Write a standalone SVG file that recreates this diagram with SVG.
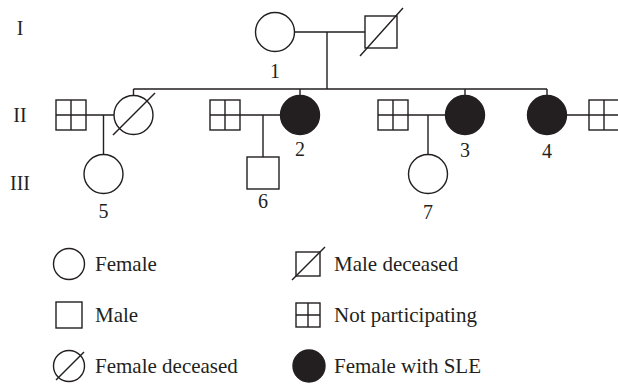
<svg xmlns="http://www.w3.org/2000/svg" width="618" height="385" viewBox="0 0 618 385">
<style>
.s{fill:#fff;stroke:#231f20;stroke-width:1.4}
.f{fill:#231f20;stroke:#231f20;stroke-width:1.4}
.l{fill:none;stroke:#231f20;stroke-width:1.4}
text{font-family:"Liberation Serif","Times New Roman",serif;font-size:20px;fill:#231f20}
.c{text-anchor:middle}
.lg{font-size:21px}
</style>
<rect width="618" height="385" fill="#fff"/>
<g id="gen-labels">
<text x="20" y="35" class="c">I</text>
<text x="20" y="122" class="c">II</text>
<text x="20" y="190" class="c">III</text>
</g>
<g id="connectors" class="l">
<path d="M294.5 32H365M327 32V89M133.5 89H547M133.5 89V95.5M300 89V95.5M465 89V95.5M547 89V95.5"/>
<path d="M86 115H114M240 115H280.5M408 115H445.5M566.5 115H589"/>
<path d="M103.5 115V154.5M263 115V157M428 115V154.5"/>
</g>
<g id="p1"><circle class="s" cx="275" cy="32" r="19.5"/><text x="275" y="78" class="c">1</text></g>
<g id="i2"><rect class="s" x="365" y="16" width="32" height="32"/><line class="l" x1="360" y1="56" x2="403" y2="8"/></g>
<g id="np1"><rect class="s" x="56" y="100" width="30" height="30"/><path class="l" d="M71 100V130M56 115H86"/></g>
<g id="ii-deceased"><circle class="s" cx="133.5" cy="115" r="19.5"/><line class="l" x1="113" y1="135" x2="155" y2="93"/></g>
<g id="np2"><rect class="s" x="210" y="100" width="30" height="30"/><path class="l" d="M225 100V130M210 115H240"/></g>
<g id="p2"><circle class="f" cx="300" cy="115" r="19.5"/><text x="300" y="156" class="c">2</text></g>
<g id="np3"><rect class="s" x="378" y="100" width="30" height="30"/><path class="l" d="M393 100V130M378 115H408"/></g>
<g id="p3"><circle class="f" cx="465" cy="115" r="19.5"/><text x="465" y="157" class="c">3</text></g>
<g id="p4"><circle class="f" cx="547" cy="115" r="19.5"/><text x="547" y="158" class="c">4</text></g>
<g id="np4"><rect class="s" x="589" y="100" width="30" height="30"/><path class="l" d="M604 100V130M589 115H619"/></g>
<g id="p5"><circle class="s" cx="103.5" cy="174" r="19.5"/><text x="103.5" y="218" class="c">5</text></g>
<g id="p6"><rect class="s" x="247" y="157" width="32" height="32"/><text x="263" y="208" class="c">6</text></g>
<g id="p7"><circle class="s" cx="428" cy="174" r="19.5"/><text x="428" y="219" class="c">7</text></g>
<g id="legend">
<circle class="s" cx="69" cy="264" r="15.5"/><text class="lg" x="95" y="271">Female</text>
<rect class="s" x="56" y="302" width="26" height="26"/><text class="lg" x="95" y="322">Male</text>
<circle class="s" cx="69" cy="366" r="15.5"/><line class="l" x1="56" y1="380" x2="84" y2="352"/><text class="lg" x="95" y="373">Female deceased</text>
<rect class="s" x="296" y="252" width="24" height="24"/><line class="l" x1="292" y1="280" x2="325" y2="247"/><text class="lg" x="334" y="271">Male deceased</text>
<rect class="s" x="296" y="303" width="24" height="24"/><path class="l" d="M308 303V327M296 315H320"/><text class="lg" x="334" y="322">Not participating</text>
<circle class="f" cx="309" cy="366" r="16"/><text class="lg" x="334" y="373">Female with SLE</text>
</g>
</svg>
